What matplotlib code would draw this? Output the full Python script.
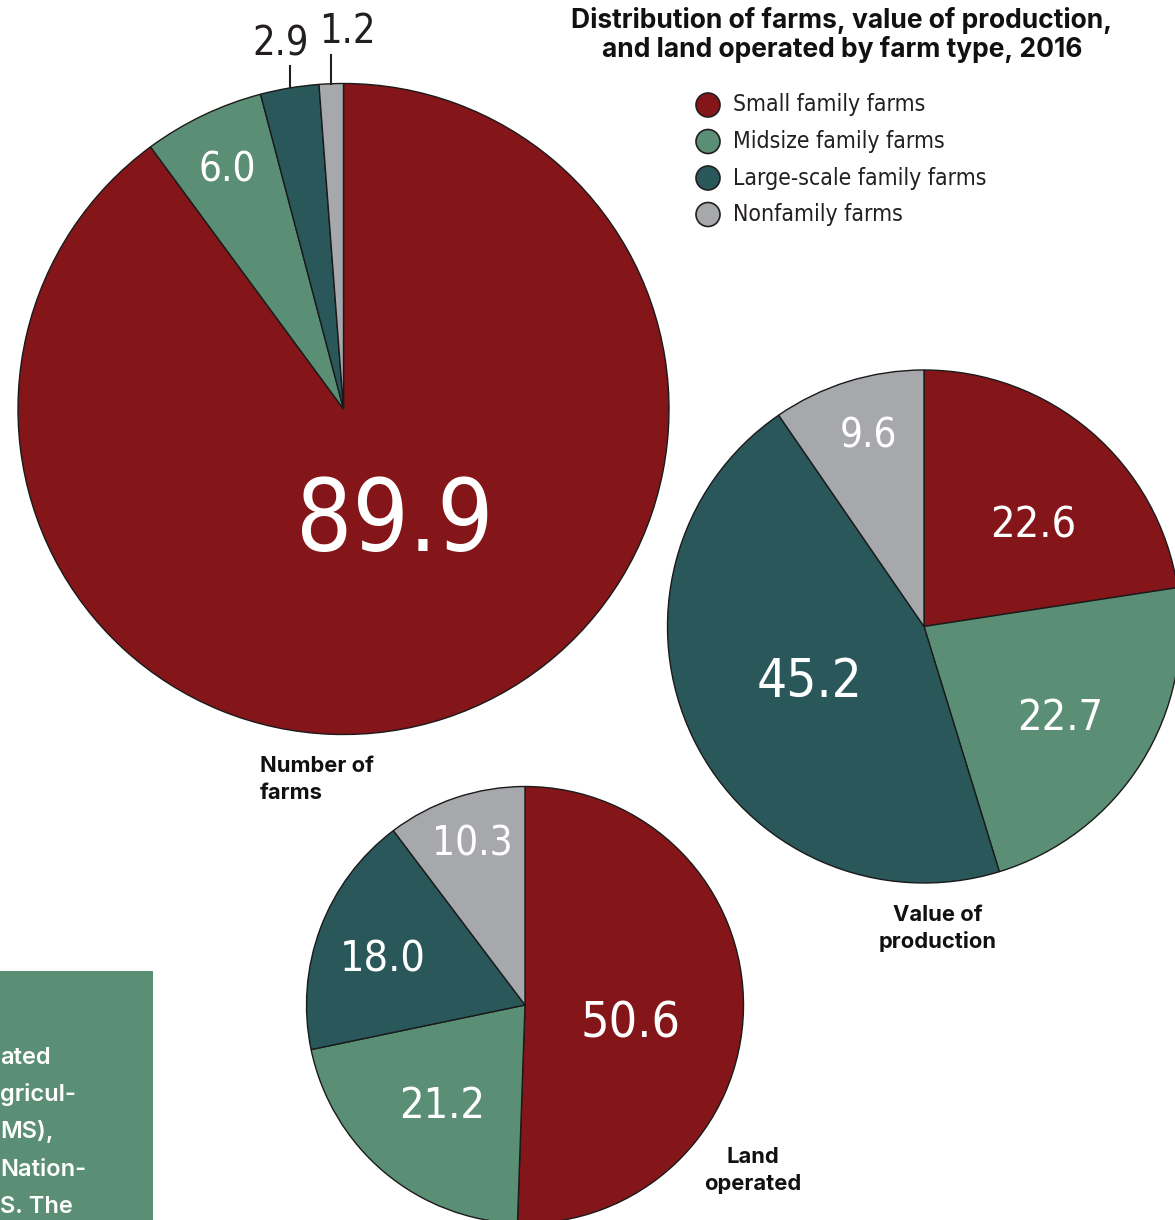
import matplotlib
matplotlib.use("Agg")
import matplotlib.pyplot as plt
from matplotlib.patches import Circle, Rectangle

W, H = 1175, 1220

categories = ["Small family farms", "Midsize family farms", "Large-scale family farms", "Nonfamily farms"]
farms_share = [89.9, 6.0, 2.9, 1.2]
production_share = [22.6, 22.7, 45.2, 9.6]
land_share = [50.6, 21.2, 18.0, 10.3]
colors = ["#841518", "#5a8f76", "#29575a", "#a7a8ac"]

cond = dict(family="DejaVu Sans", fontstretch="condensed")
boldf = dict(family="Inter", fontweight="bold")

fig = plt.figure(figsize=(W / 100, H / 100), dpi=100)
ax = fig.add_axes([0, 0, 1, 1])

def Y(y):
    return H - y

pies = [
    (farms_share, (343.5, 409), 325.5),
    (production_share, (924, 626.5), 256.5),
    (land_share, (525, 1005), 218.5),
]
for vals, (cx, cy), r in pies:
    ax.pie(vals, colors=colors, startangle=90, counterclock=False,
           center=(cx, Y(cy)), radius=r,
           wedgeprops=dict(edgecolor="#1a1a1a", linewidth=1.0))

ax.set_xlim(0, W)
ax.set_ylim(0, H)
ax.set_aspect("equal")
ax.axis("off")

# value labels (text, x center, baseline y, size, color)
labels = [
    (f"{farms_share[0]:.1f}", 395, 551, 71, "white"),
    (f"{farms_share[1]:.1f}", 227, 181, 29, "white"),
    (f"{farms_share[2]:.1f}", 281, 55, 28.5, "#231f20"),
    (f"{farms_share[3]:.1f}", 347, 43, 28.5, "#231f20"),
    (f"{production_share[0]:.1f}", 1033, 538, 31, "white"),
    (f"{production_share[1]:.1f}", 1060, 730, 31, "white"),
    (f"{production_share[2]:.1f}", 810, 697, 38, "white"),
    (f"{production_share[3]:.1f}", 868, 448, 29, "white"),
    (f"{land_share[0]:.1f}", 631, 1037, 36, "white"),
    (f"{land_share[1]:.1f}", 442, 1118, 31, "white"),
    (f"{land_share[2]:.1f}", 383, 971, 31, "white"),
    (f"{land_share[3]:.1f}", 472, 855, 29, "white"),
]
for t, x, y, s, c in labels:
    ax.text(x, Y(y), t, fontsize=s, color=c, ha="center", va="baseline", **cond)

# leader lines for small slices
ax.plot([290, 290], [Y(66), Y(87)], color="#231f20", lw=1.5)
ax.plot([331, 331], [Y(55), Y(84)], color="#231f20", lw=1.5)

# pie titles (lines with baselines)
for t, x, y, ha in [("Number of", 260, 772, "left"), ("farms", 260, 799, "left"),
                    ("Value of", 938, 921, "center"), ("production", 938, 948, "center"),
                    ("Land", 753, 1163, "center"), ("operated", 753, 1190, "center")]:
    ax.text(x, Y(y), t, fontsize=15.8, ha=ha, va="baseline", color="#111", **boldf)

# chart title
for t, y in [("Distribution of farms, value of production,", 28),
             ("and land operated by farm type, 2016", 57)]:
    ax.text(842, Y(y), t, fontsize=19, ha="center", va="baseline", color="#111", **boldf)

# legend
for i, (cat, col) in enumerate(zip(categories, colors)):
    yy = 105 + i * 36.5
    ax.add_patch(Circle((708, Y(yy)), 12, facecolor=col, edgecolor="#231f20", lw=1.2))
    ax.text(733, Y(yy), cat, fontsize=16.5, ha="left", va="center",
            color="#231f20", **cond)

# green side box
ax.add_patch(Rectangle((0, Y(1220)), 153, 1220 - 971, facecolor="#5a8f76",
                       edgecolor="none"))
box_lines = ["ated", "gricul-", "MS),", "Nation-", "S. The"]
for i, t in enumerate(box_lines):
    ax.text(0, Y(1064 + i * 37.2), t, fontsize=17, color="white",
            ha="left", va="baseline", family="Inter", fontweight="semibold")

fig.savefig("out.png", dpi=100)
